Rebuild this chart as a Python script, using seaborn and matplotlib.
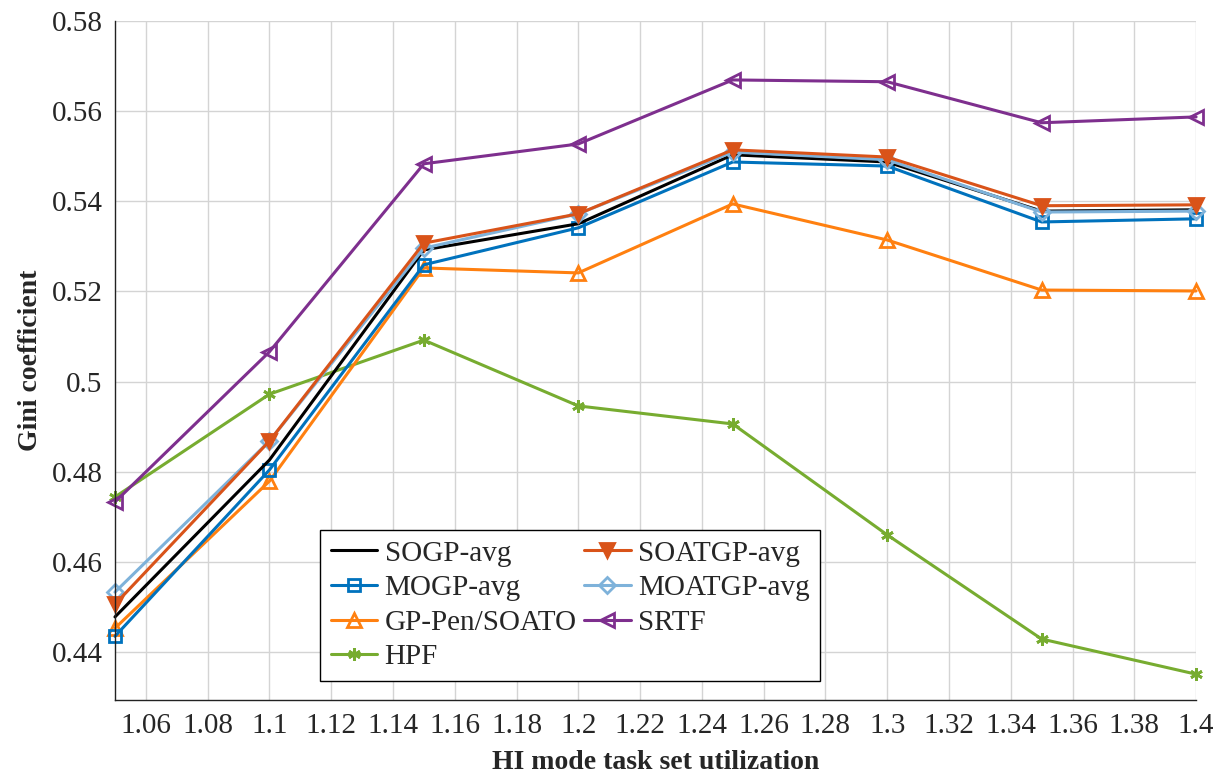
import numpy as np
import pandas as pd
import matplotlib
matplotlib.use("Agg")
import matplotlib.pyplot as plt
from matplotlib.ticker import MultipleLocator, FuncFormatter
import seaborn as sns

sns.set_style("white")
plt.rcParams['font.family'] = ['Liberation Serif', 'DejaVu Serif']

# ----- data -----
utilization = [1.05, 1.1, 1.15, 1.2, 1.25, 1.3, 1.35, 1.4]

sogp_avg = [0.4478, 0.4826, 0.5292, 0.5350, 0.5503, 0.5487, 0.5378, 0.5381]
mogp_avg = [0.4435, 0.4804, 0.5259, 0.5341, 0.5487, 0.5478, 0.5354, 0.5361]
gp_pen = [0.4453, 0.4779, 0.5252, 0.5241, 0.5394, 0.5314, 0.5203, 0.5201]
hpf = [0.4744, 0.4972, 0.5092, 0.4946, 0.4906, 0.4660, 0.4429, 0.4351]
soatgp_avg = [0.4506, 0.4868, 0.5307, 0.5372, 0.5514, 0.5498, 0.5390, 0.5392]
moatgp_avg = [0.4533, 0.4868, 0.5296, 0.5372, 0.5509, 0.5492, 0.5376, 0.5378]
srtf = [0.4733, 0.5066, 0.5483, 0.5527, 0.5669, 0.5665, 0.5574, 0.5587]

series = ["SOGP-avg", "MOGP-avg", "GP-Pen/SOATO", "HPF",
          "SOATGP-avg", "MOATGP-avg", "SRTF"]
values = [sogp_avg, mogp_avg, gp_pen, hpf, soatgp_avg, moatgp_avg, srtf]

df = pd.DataFrame({
    "u": np.tile(utilization, len(series)),
    "gini": np.concatenate(values),
    "method": np.repeat(series, len(utilization)),
})

styles = {
    "SOGP-avg":     dict(color="black",   marker=None, mfc="none", ms=0),
    "MOGP-avg":     dict(color="#0072BD", marker="s",  mfc="none", ms=9),
    "GP-Pen/SOATO": dict(color="#FF8010", marker="^",  mfc="none", ms=10),
    "HPF":          dict(color="#77AC30", marker=(6, 2, 0), mfc="none", ms=9),
    "SOATGP-avg":   dict(color="#D95319", marker="v",  mfc="#D95319", ms=10),
    "MOATGP-avg":   dict(color="#7EB2DA", marker="D",  mfc="none", ms=8),
    "SRTF":         dict(color="#7E2F8E", marker="<",  mfc="none", ms=10),
}

draw_order = ["HPF", "SRTF", "GP-Pen/SOATO", "MOGP-avg", "SOGP-avg",
              "MOATGP-avg", "SOATGP-avg"]

fig, ax = plt.subplots(figsize=(12.23, 7.73), dpi=100)
fig.subplots_adjust(left=0.094, right=0.978, top=0.973, bottom=0.094)

handles = {}
for name in draw_order:
    st = styles[name]
    sub = df[df["method"] == name]
    sns.lineplot(data=sub, x="u", y="gini", ax=ax, color=st["color"],
                 linewidth=2.2, label=name)
    line = ax.lines[-1]
    line.set_clip_on(False)
    if st["marker"] is not None:
        line.set_marker(st["marker"])
        line.set_markersize(st["ms"])
        line.set_markeredgewidth(2.0)
        line.set_markerfacecolor(st["mfc"])
        line.set_markeredgecolor(st["color"])
    handles[name] = line

ax.set_xlim(1.05, 1.4)
ax.set_ylim(0.4293, 0.58)
ax.yaxis.set_major_locator(MultipleLocator(0.02))
fmt = FuncFormatter(lambda v, p: f"{v:.2f}".rstrip("0").rstrip("."))
ax.xaxis.set_major_formatter(fmt)
ax.yaxis.set_major_formatter(fmt)
ax.set_xticks([t for t in np.arange(1.06, 1.4001, 0.02)])

ax.grid(True, color="#d4d4d4", linewidth=1.0)
ax.set_axisbelow(True)
for s in ["top", "right"]:
    ax.spines[s].set_visible(False)
for s in ["left", "bottom"]:
    ax.spines[s].set_color("#222222")
    ax.spines[s].set_linewidth(1.0)

ax.tick_params(axis="both", direction="in", length=5, width=1.0,
               color="#888888", labelsize=21, pad=9)

ax.set_xlabel("HI mode task set utilization", fontsize=20, fontweight="bold",
              labelpad=8)
ax.set_ylabel("Gini coefficient", fontsize=20, fontweight="bold", labelpad=6)

leg = ax.legend([handles[n] for n in series], series, ncol=2,
                loc="lower left", bbox_to_anchor=(0.19, 0.029),
                fontsize=21, frameon=True, fancybox=False, framealpha=1,
                edgecolor="black", handlelength=1.6, columnspacing=0.25,
                handletextpad=0.25, labelspacing=0.28, borderpad=0.35,
                borderaxespad=0)
leg.get_frame().set_linewidth(1.0)

fig.savefig("out.png", dpi=100)
